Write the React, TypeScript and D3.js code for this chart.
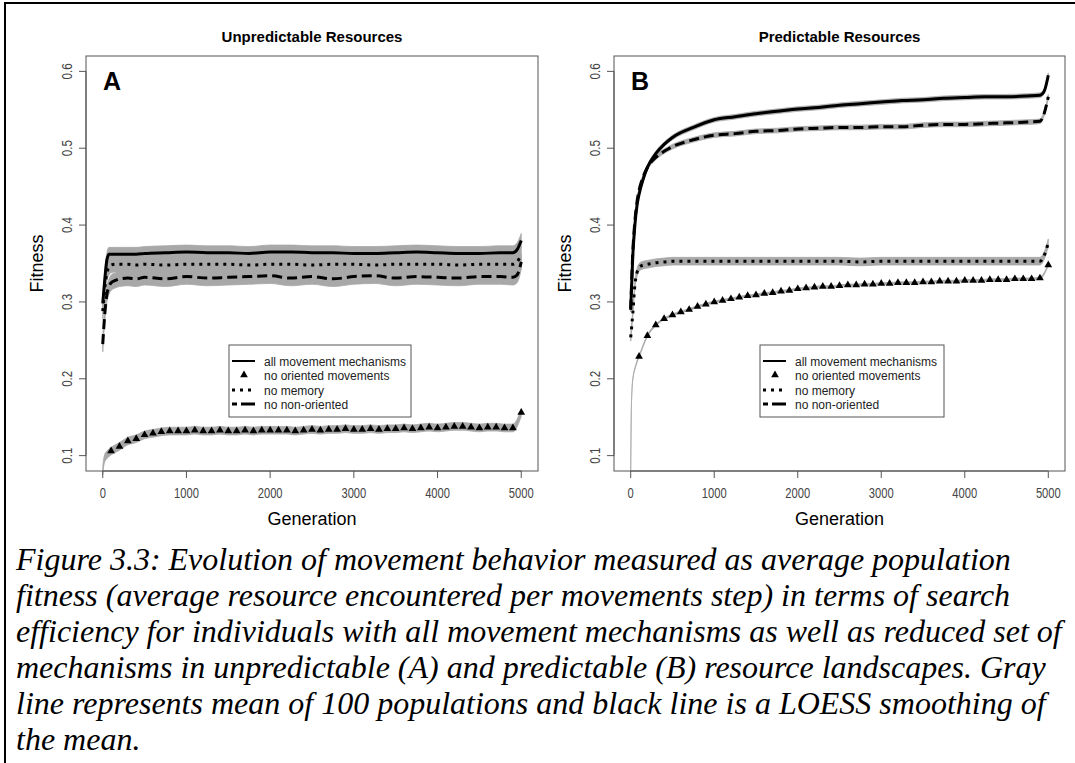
import React from "react";
import * as d3 from "d3";

// ---------- data ----------
const GEN_TICKS = [0, 1000, 2000, 3000, 4000, 5000];
const FIT_TICKS = [0.1, 0.2, 0.3, 0.4, 0.5, 0.6];
const TICK_LABELS_X = ["0", "1000", "2000", "3000", "4000", "5000"];
const TICK_LABELS_Y = ["0.1", "0.2", "0.3", "0.4", "0.5", "0.6"];

const PANEL_TITLES = ["Unpredictable Resources", "Predictable Resources"];
const PANEL_LETTERS = ["A", "B"];
const LEGEND_LABELS = ["all movement mechanisms", "no oriented movements", "no memory", "no non-oriented"];

// generations at which the LOESS curves are read
const SMOOTH_GEN = [0, 25, 50, 75, 100, 150, 200, 300, 400, 500, 750, 1000, 1250, 1500, 1750, 2000, 2250, 2500, 2750, 3000, 3250, 3500, 3750, 4000, 4250, 4500, 4750, 4900, 4950, 5000];

// Panel A (unpredictable)
const A_ALL = [0.298, 0.33, 0.355, 0.362, 0.362, 0.362, 0.362, 0.362, 0.362, 0.363, 0.364, 0.365, 0.364, 0.364, 0.363, 0.365, 0.365, 0.364, 0.364, 0.363, 0.363, 0.364, 0.365, 0.364, 0.363, 0.363, 0.364, 0.364, 0.368, 0.38];
const A_MEM = [0.288, 0.318, 0.338, 0.345, 0.348, 0.349, 0.349, 0.349, 0.348, 0.349, 0.348, 0.349, 0.349, 0.349, 0.348, 0.349, 0.349, 0.348, 0.349, 0.349, 0.348, 0.349, 0.349, 0.349, 0.348, 0.349, 0.349, 0.349, 0.352, 0.362];
const A_NON = [0.245, 0.285, 0.31, 0.32, 0.325, 0.328, 0.33, 0.331, 0.33, 0.332, 0.33, 0.333, 0.331, 0.332, 0.333, 0.334, 0.331, 0.333, 0.33, 0.333, 0.334, 0.331, 0.333, 0.332, 0.331, 0.333, 0.333, 0.332, 0.335, 0.352];

// Panel B (predictable)
const B_ALL = [0.29, 0.36, 0.4, 0.425, 0.44, 0.46, 0.475, 0.493, 0.505, 0.514, 0.527, 0.537, 0.541, 0.545, 0.548, 0.551, 0.553, 0.556, 0.558, 0.56, 0.562, 0.563, 0.565, 0.566, 0.567, 0.567, 0.568, 0.569, 0.574, 0.595];
const B_MEM = [0.254, 0.285, 0.322, 0.338, 0.345, 0.348, 0.349, 0.351, 0.352, 0.353, 0.353, 0.353, 0.353, 0.353, 0.353, 0.353, 0.353, 0.353, 0.352, 0.353, 0.353, 0.353, 0.353, 0.353, 0.353, 0.353, 0.353, 0.353, 0.36, 0.377];
const B_NON = [0.29, 0.365, 0.405, 0.43, 0.445, 0.463, 0.475, 0.488, 0.496, 0.502, 0.511, 0.517, 0.519, 0.522, 0.523, 0.525, 0.526, 0.527, 0.527, 0.528, 0.528, 0.53, 0.531, 0.531, 0.532, 0.533, 0.534, 0.535, 0.545, 0.567];

// "no oriented movements" markers, every 100 generations
const TRI_GEN = d3.range(100, 5001, 100);
const A_TRI = [0.106, 0.112, 0.119, 0.122, 0.127, 0.129, 0.131, 0.132, 0.132, 0.132, 0.133, 0.132, 0.132, 0.133, 0.132, 0.132, 0.133, 0.132, 0.133, 0.133, 0.133, 0.133, 0.132, 0.133, 0.134, 0.133, 0.134, 0.134, 0.135, 0.134, 0.134, 0.135, 0.134, 0.135, 0.135, 0.136, 0.135, 0.136, 0.137, 0.136, 0.137, 0.138, 0.138, 0.137, 0.136, 0.137, 0.137, 0.136, 0.136, 0.156];
const B_TRI = [0.229, 0.256, 0.27, 0.278, 0.283, 0.287, 0.29, 0.294, 0.297, 0.3, 0.302, 0.304, 0.306, 0.308, 0.309, 0.311, 0.312, 0.314, 0.315, 0.317, 0.318, 0.319, 0.32, 0.32, 0.321, 0.322, 0.322, 0.323, 0.323, 0.324, 0.324, 0.325, 0.325, 0.325, 0.326, 0.326, 0.327, 0.327, 0.327, 0.328, 0.328, 0.328, 0.329, 0.329, 0.329, 0.33, 0.33, 0.33, 0.331, 0.348];

// early part of the grey mean line of "no oriented movements"
const A_TRI_START_GEN = [0, 10, 25, 50, 75];
const A_TRI_START = [0.08, 0.09, 0.097, 0.101, 0.104];
const B_TRI_START_GEN = [0, 5, 15, 30, 50, 75];
const B_TRI_START = [0.08, 0.14, 0.185, 0.203, 0.213, 0.222];

// half-width of the noisy grey mean (spread around the smooth line)
const A_SPREAD = [0.009, 0.005, 0.01, 0.01]; // all, tri, mem, non
const B_SPREAD = [0.003, 0.0012, 0.005, 0.003];

const CAPTION = [
  "Figure 3.3: Evolution of movement behavior measured as average population",
  "fitness (average resource encountered per movements step) in terms of search",
  "efficiency for individuals with all movement mechanisms as well as reduced set of",
  "mechanisms in unpredictable (A) and predictable (B) resource landscapes. Gray",
  "line represents mean of 100 populations and black line is a LOESS smoothing of",
  "the mean.",
];

// ---------- layout ----------
const W = 1075;
const H = 763;
const TOP = 56;
const BOTTOM = 471;
const PANELS = [
  { left: 86, right: 538, legendX: 229, legendW: 182, all: A_ALL, mem: A_MEM, non: A_NON, tri: A_TRI, triStartGen: A_TRI_START_GEN, triStart: A_TRI_START, spread: A_SPREAD },
  { left: 614, right: 1065, legendX: 760, legendW: 184, all: B_ALL, mem: B_MEM, non: B_NON, tri: B_TRI, triStartGen: B_TRI_START_GEN, triStart: B_TRI_START, spread: B_SPREAD },
];
const GREY = "#a8a8a8";
const AXIS = "#555";
const SANS = "Liberation Sans, Arial, sans-serif";

function Panel({ p, i }: { p: any; i: number }) {
  const x = d3.scaleLinear().domain([-200, 5200]).range([p.left, p.right]);
  const y = d3.scaleLinear().domain([0.08, 0.62]).range([BOTTOM, TOP]);

  const pts = (vals: number[]) => SMOOTH_GEN.map((g, k) => [g, vals[k]] as [number, number]);
  const triPts: [number, number][] = [
    ...p.triStartGen.map((g: number, k: number) => [g, p.triStart[k]] as [number, number]),
    ...TRI_GEN.map((g, k) => [g, p.tri[k]] as [number, number]),
  ];

  const band = (data: [number, number][], s: number) =>
    d3.area<[number, number]>()
      .x((d) => x(d[0]))
      .y0((d) => y(d[1] - s))
      .y1((d) => y(d[1] + s))
      .curve(d3.curveMonotoneX)(data) || "";
  const line = d3.line<[number, number]>().x((d) => x(d[0])).y((d) => y(d[1])).curve(d3.curveMonotoneX);
  const tri = d3.symbol(d3.symbolTriangle, 26)() || "";

  const cx = (p.left + p.right) / 2;
  const cy = (TOP + BOTTOM) / 2;
  const lx = p.legendX;
  const ly = 345;
  const rows = [361, 375, 390, 404];

  return (
    <g>
      {/* grey means */}
      <path d={band(triPts, p.spread[1])} fill={GREY} stroke={GREY} strokeWidth={0.8} />
      <path d={band(pts(p.non), p.spread[3])} fill={GREY} stroke={GREY} strokeWidth={0.8} />
      <path d={band(pts(p.mem), p.spread[2])} fill={GREY} stroke={GREY} strokeWidth={0.8} />
      <path d={band(pts(p.all), p.spread[0])} fill={GREY} stroke={GREY} strokeWidth={0.8} />
      {/* LOESS lines */}
      <path d={line(pts(p.non)) || ""} fill="none" stroke="#000" strokeWidth={3} strokeDasharray="10 5" />
      <path d={line(pts(p.mem)) || ""} fill="none" stroke="#000" strokeWidth={3} strokeDasharray="3 5" />
      <path d={line(pts(p.all)) || ""} fill="none" stroke="#000" strokeWidth={3} />
      {TRI_GEN.map((g, k) => (
        <path key={g} d={tri} transform={`translate(${x(g)},${y(p.tri[k])})`} fill="#000" />
      ))}

      {/* box and axes */}
      <rect x={p.left} y={TOP} width={p.right - p.left} height={BOTTOM - TOP} fill="none" stroke={AXIS} strokeWidth={1} />
      <line x1={x(0)} x2={x(5000)} y1={BOTTOM} y2={BOTTOM} stroke={AXIS} />
      {GEN_TICKS.map((t, k) => (
        <g key={t}>
          <line x1={x(t)} x2={x(t)} y1={BOTTOM} y2={BOTTOM + 7} stroke={AXIS} />
          <text transform={`translate(${x(t)},498) scale(0.77,1)`} textAnchor="middle" fontFamily={SANS} fontSize={14.5} fill="#444">{TICK_LABELS_X[k]}</text>
        </g>
      ))}
      <line x1={p.left} x2={p.left} y1={y(0.1)} y2={y(0.6)} stroke={AXIS} />
      {FIT_TICKS.map((t, k) => (
        <g key={t}>
          <line x1={p.left - 7} x2={p.left} y1={y(t)} y2={y(t)} stroke={AXIS} />
          <text transform={`translate(${p.left - 14},${y(t)}) rotate(-90) scale(0.77,1)`} textAnchor="middle" fontFamily={SANS} fontSize={15} fill="#444">{TICK_LABELS_Y[k]}</text>
        </g>
      ))}

      {/* labels */}
      <text x={cx} y={42} textAnchor="middle" fontFamily={SANS} fontWeight="bold" fontSize={15} fill="#000">{PANEL_TITLES[i]}</text>
      <text x={p.left + 17} y={90} fontFamily={SANS} fontWeight="bold" fontSize={25} fill="#000">{PANEL_LETTERS[i]}</text>
      <text x={cx} y={525} textAnchor="middle" fontFamily={SANS} fontSize={18} fill="#000">Generation</text>
      <text transform={`translate(${p.left - 43},${cy}) rotate(-90)`} textAnchor="middle" fontFamily={SANS} fontSize={18} fill="#000">Fitness</text>

      {/* legend */}
      <rect x={lx} y={ly} width={p.legendW} height={72} fill="#fff" stroke={AXIS} strokeWidth={1} />
      <line x1={lx + 3} x2={lx + 26} y1={rows[0]} y2={rows[0]} stroke="#000" strokeWidth={2} />
      <path d={tri} transform={`translate(${lx + 15},${rows[1]})`} fill="#000" />
      <line x1={lx + 3} x2={lx + 26} y1={rows[2]} y2={rows[2]} stroke="#000" strokeWidth={3} strokeDasharray="3 5" />
      <line x1={lx + 3} x2={lx + 26} y1={rows[3]} y2={rows[3]} stroke="#000" strokeWidth={3} strokeDasharray="5 4 14 4" />
      {LEGEND_LABELS.map((l, k) => (
        <text key={l} x={lx + 35} y={rows[k] + 4.5} fontFamily={SANS} fontSize={12} fill="#222">{l}</text>
      ))}
    </g>
  );
}

export default function App() {
  return (
    <svg width={W} height={H} style={{ position: "absolute", left: 0, top: 0, display: "block", background: "#fff" }}>
      <rect x={0} y={0} width={W} height={H} fill="#fff" />
      <path d={`M5,${H} L5,3 L${W},3`} fill="none" stroke="#000" strokeWidth={2} />
      {PANELS.map((p, i) => (
        <Panel key={i} p={p} i={i} />
      ))}
      {CAPTION.map((c, k) => (
        <text key={k} x={16} y={570 + k * 36} fontFamily="Liberation Serif, Times New Roman, serif" fontStyle="italic" fontSize={32} fill="#000">{c}</text>
      ))}
    </svg>
  );
}
